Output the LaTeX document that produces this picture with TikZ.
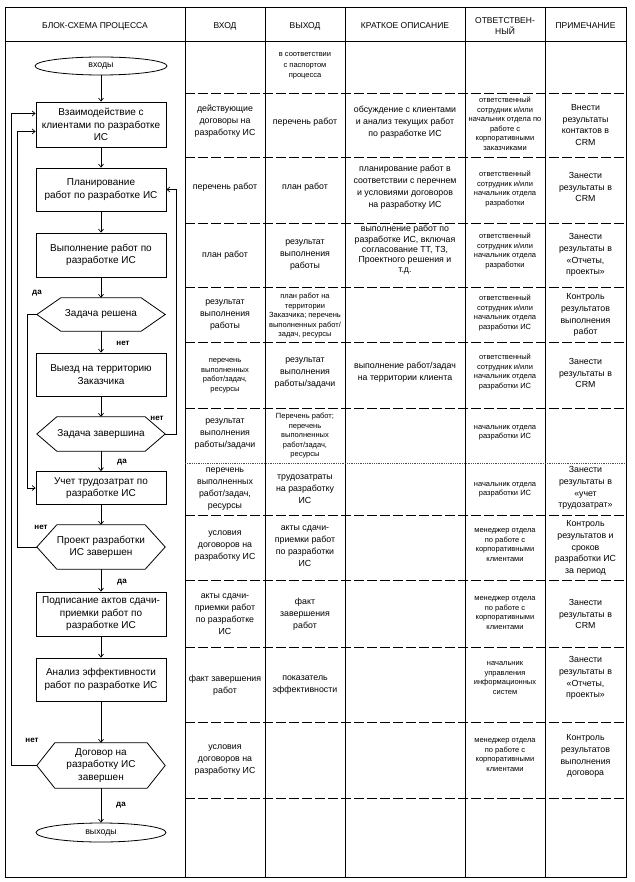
\documentclass[tikz,border=0pt]{standalone}
\usepackage{fontspec}
\setmainfont{Liberation Sans}
\usetikzlibrary{shapes.geometric,arrows.meta,calc}
\newcommand{\bxf}{\fontsize{10}{12.5}\selectfont}
\newcommand{\clf}{\fontsize{8.8}{11.8}\selectfont}
\newcommand{\scf}{\fontsize{7.5}{9.5}\selectfont}
\newcommand{\hdf}{\fontsize{8.5}{10.5}\selectfont}
\newcommand{\lbf}{\bfseries\fontsize{8}{10}\selectfont}
\begin{document}
\begin{tikzpicture}[x=1pt,y=-1pt,
  frm/.style={line width=0.9pt},
  rowsep/.style={line width=0.9pt, dash pattern=on 10pt off 3pt},
  rowdot/.style={line width=0.8pt, dash pattern=on 1pt off 0.8pt, black!70},
  flow/.style={line width=0.7pt},
  arr/.style={flow, -{Straight Barb[length=3pt,width=5pt]}},
  blk/.style={draw, line width=0.8pt, minimum width=130pt, align=center, font=\bxf, inner sep=0pt},
  hx/.style={minimum width=128pt, align=center, font=\bxf, inner sep=0pt},
  term/.style={draw, line width=0.8pt, ellipse, minimum width=132pt, minimum height=18pt, inner sep=0pt, font=\clf},
  cell/.style={align=center, font=\clf, inner sep=0pt},
  scell/.style={align=center, font=\scf, inner sep=0pt},
  hdr/.style={align=center, font=\hdf, inner sep=0pt},
  lbl/.style={font=\lbf, inner sep=0pt}
]
\useasboundingbox (0,0) rectangle (634,882);
\fill[white] (0,0) rectangle (634,882);

% ---------- table grid ----------
\draw[frm] (5,7) rectangle (626,877);
\draw[frm] (5,41) -- (626,41);
\foreach \xx in {185,265,345,465,545} \draw[frm] (\xx,7) -- (\xx,877);
\foreach \yy in {93,157,223,287,342,408,515,580,647,722,798} \draw[rowsep] (185,\yy) -- (626,\yy);
\draw[rowdot] (185,463) -- (626,463);

% ---------- header ----------
\node[hdr] (hd1) at (95,26) {БЛОК-СХЕМА ПРОЦЕССА};
\node[hdr] (hd2) at (225,26) {ВХОД};
\node[hdr] (hd3) at (305,26) {ВЫХОД};
\node[hdr] (hd4) at (405,26) {КРАТКОЕ ОПИСАНИЕ};
\node[hdr] (hd5) at (505,26) {ОТВЕТСТВЕН-\\НЫЙ};
\node[hdr] (hd6) at (585.5,26) {ПРИМЕЧАНИЕ};

% ---------- rows ----------
\node[scell, font=\fontsize{7.5}{10.5}\selectfont] (r1c3) at (305,66) {в соответствии\\с паспортом\\процесса};

\node[cell] (r2c2) at (225,121) {действующие\\договоры на\\разработку ИС};
\node[cell] (r2c3) at (305,122) {перечень работ};
\node[cell] (r2c4) at (405,122) {обсуждение с клиентами\\и анализ текущих работ\\по разработке ИС};
\node[scell] (r2c5) at (505,124) {ответственный\\сотрудник и/или\\начальник отдела по\\работе с\\корпоративными\\заказчиками};
\node[cell] (r2c6) at (585.5,125) {Внести\\результаты\\контактов в\\CRM};

\node[cell] (r3c2) at (225,187) {перечень работ};
\node[cell] (r3c3) at (305,187) {план работ};
\node[cell] (r3c4) at (405,187) {планирование работ в\\соответствии с перечнем\\и условиями договоров\\на разработку ИС};
\node[scell] (r3c5) at (505,189) {ответственный\\сотрудник и/или\\начальник отдела\\разработки};
\node[cell] (r3c6) at (585.5,187) {Занести\\результаты в\\CRM};

\node[cell] (r4c2) at (225,255) {план работ};
\node[cell] (r4c3) at (305,255) {результат\\выполнения\\работы};
\node[cell, font=\fontsize{8.8}{10.3}\selectfont] (r4c4) at (405,250) {выполнение работ по\\разработке ИС, включая\\согласование ТТ, ТЗ,\\Проектного решения и\\т.д.};
\node[scell] (r4c5) at (505,251) {ответственный\\сотрудник и/или\\начальник отдела\\разработки};
\node[cell] (r4c6) at (585.5,255) {Занести\\результаты в\\«Отчеты,\\проекты»};

\node[cell] (r5c2) at (225,315) {результат\\выполнения\\работы};
\node[scell] (r5c3) at (305,316) {план работ на\\территории\\Заказчика; перечень\\выполненных работ/\\задач, ресурсы};
\node[scell] (r5c5) at (505,313) {ответственный\\сотрудник и/или\\начальник отдела\\разработки ИС};
\node[cell] (r5c6) at (585.5,315) {Контроль\\результатов\\выполнения\\работ};

\node[scell] (r6c2) at (225,376) {перечень\\выполненных\\работ/задач,\\ресурсы};
\node[cell] (r6c3) at (305,373) {результат\\выполнения\\работы/задачи};
\node[cell] (r6c4) at (405,372) {выполнение работ/задач\\на территории клиента};
\node[scell] (r6c5) at (505,372) {ответственный\\сотрудник и/или\\начальник отдела\\разработки ИС};
\node[cell] (r6c6) at (585.5,373) {Занести\\результаты в\\CRM};

\node[cell] (r7c2) at (225,434) {результат\\выполнения\\работы/задачи};
\node[scell] (r7c3) at (305,436) {Перечень работ;\\перечень\\выполненных\\работ/задач,\\ресурсы};
\node[scell] (r7c5) at (505,433) {начальник отдела\\разработки ИС};

\node[cell] (r8c2) at (225,489) {перечень\\выполненных\\работ/задач,\\ресурсы};
\node[cell] (r8c3) at (305,489) {трудозатраты\\на разработку\\ИС};
\node[scell] (r8c5) at (505,490) {начальник отдела\\разработки ИС};
\node[cell] (r8c6) at (585.5,488) {Занести\\результаты в\\«учет\\трудозатрат»};

\node[cell] (r9c2) at (225,546) {условия\\договоров на\\разработку ИС};
\node[cell] (r9c3) at (305,546) {акты сдачи-\\приемки работ\\по разработки\\ИС};
\node[scell] (r9c5) at (505,545) {менеджер отдела\\по работе с\\корпоративными\\клиентами};
\node[cell] (r9c6) at (585.5,548) {Контроль\\результатов и\\сроков\\разработки ИС\\за период};

\node[cell] (r10c2) at (225,614) {акты сдачи-\\приемки работ\\по разработке\\ИС};
\node[cell] (r10c3) at (305,614) {факт\\завершения\\работ};
\node[scell] (r10c5) at (505,613) {менеджер отдела\\по работе с\\корпоративными\\клиентами};
\node[cell] (r10c6) at (585.5,614) {Занести\\результаты в\\CRM};

\node[cell] (r11c2) at (225,685) {факт завершения\\работ};
\node[cell] (r11c3) at (305,685) {показатель\\эффективности};
\node[scell] (r11c5) at (505,678) {начальник\\управления\\информационных\\систем};
\node[cell] (r11c6) at (585.5,678) {Занести\\результаты в\\«Отчеты,\\проекты»};

\node[cell] (r12c2) at (225,760) {условия\\договоров на\\разработку ИС};
\node[scell] (r12c5) at (505,755) {менеджер отдела\\по работе с\\корпоративными\\клиентами};
\node[cell] (r12c6) at (585.5,756) {Контроль\\результатов\\выполнения\\договора};

% ---------- flowchart ----------
\node[term] (e1) at (101,66) {входы};
\node[blk, minimum height=45pt] (b1) at (101,124.5) {Взаимодействие с\\клиентами по разработке\\ИС};
\node[blk, minimum height=43pt] (b2) at (101,189.5) {Планирование\\работ по разработке ИС};
\node[blk, minimum height=44pt] (b3) at (101,255) {Выполнение работ по\\разработке ИС};
\node[hx, minimum height=33pt] (h1) at (101,314.5) {Задача решена};
\node[blk, minimum height=43pt] (b4) at (101,374.5) {Выезд на территорию\\Заказчика};
\node[hx, minimum height=34pt] (h2) at (101,434) {Задача завершина};
\node[blk, minimum height=33pt] (b5) at (101,488) {Учет трудозатрат по\\разработке ИС};
\node[hx, minimum height=44pt] (h3) at (101,547) {Проект разработки\\ИС завершен};
\node[blk, minimum height=44pt] (b6) at (101,614) {Подписание актов сдачи-\\приемки работ по\\разработке ИС};
\node[blk, minimum height=43pt] (b7) at (101,679.5) {Анализ эффективности\\работ по разработке ИС};
\node[hx, minimum height=45pt] (h4) at (101,765.5) {Договор на\\разработку ИС\\завершен};
\node[term, minimum width=130pt, minimum height=19pt] (e2) at (101,832.5) {выходы};

% hexagon outlines
\draw[line width=0.8pt] (h1.west) -- ([xshift=24pt]h1.north west) -- ([xshift=-24pt]h1.north east) -- (h1.east) -- ([xshift=-24pt]h1.south east) -- ([xshift=24pt]h1.south west) -- cycle;
\draw[line width=0.8pt] (h2.west) -- ([xshift=20pt]h2.north west) -- ([xshift=-20pt]h2.north east) -- (h2.east) -- ([xshift=-20pt]h2.south east) -- ([xshift=20pt]h2.south west) -- cycle;
\draw[line width=0.8pt] (h3.west) -- ([xshift=20pt]h3.north west) -- ([xshift=-20pt]h3.north east) -- (h3.east) -- ([xshift=-20pt]h3.south east) -- ([xshift=20pt]h3.south west) -- cycle;
\draw[line width=0.8pt] (h4.west) -- ([xshift=18pt]h4.north west) -- ([xshift=-18pt]h4.north east) -- (h4.east) -- ([xshift=-18pt]h4.south east) -- ([xshift=18pt]h4.south west) -- cycle;

% main vertical flow
\draw[arr] (e1) -- (b1);
\draw[arr] (b1) -- (b2);
\draw[arr] (b2) -- (b3);
\draw[arr] (b3) -- (h1);
\draw[arr] (h1) -- (b4);
\draw[arr] (b4) -- (h2);
\draw[arr] (h2) -- (b5);
\draw[arr] (b5) -- (h3);
\draw[arr] (h3) -- (b6);
\draw[arr] (b6) -- (b7);
\draw[arr] (b7) -- (h4);
\draw[arr] (h4) -- (e2);

% loop coordinates
\coordinate (xa) at (11,0);
\coordinate (xb) at (17,0);
\coordinate (xc) at (27,0);
\coordinate (xd) at (176,0);
\coordinate (b1a) at ($(b1.west)+(0,-11)$);
\coordinate (b1b) at ($(b1.west)+(0,7)$);

\draw[arr] (h1.west) -- (h1.west -| xc) -- (b5.west -| xc) -- (b5.west);
\draw[arr] (h2.east) -- (h2.east -| xd) -- (b2.east -| xd) -- (b2.east);
\draw[arr] (h3.west) -- (h3.west -| xb) -- (b1b -| xb) -- (b1b);
\draw[arr] (h4.west) -- (h4.west -| xa) -- (b1a -| xa) -- (b1a);

% labels
\node[lbl] (l1) at (37,293) {да};
\node[lbl] (l2) at (123,343) {нет};
\node[lbl] (l3) at (157,418) {нет};
\node[lbl] (l4) at (122,462) {да};
\node[lbl] (l5) at (41,527) {нет};
\node[lbl] (l6) at (122,582) {да};
\node[lbl] (l7) at (32,740) {нет};
\node[lbl] (l8) at (121,805) {да};
\end{tikzpicture}
\end{document}
